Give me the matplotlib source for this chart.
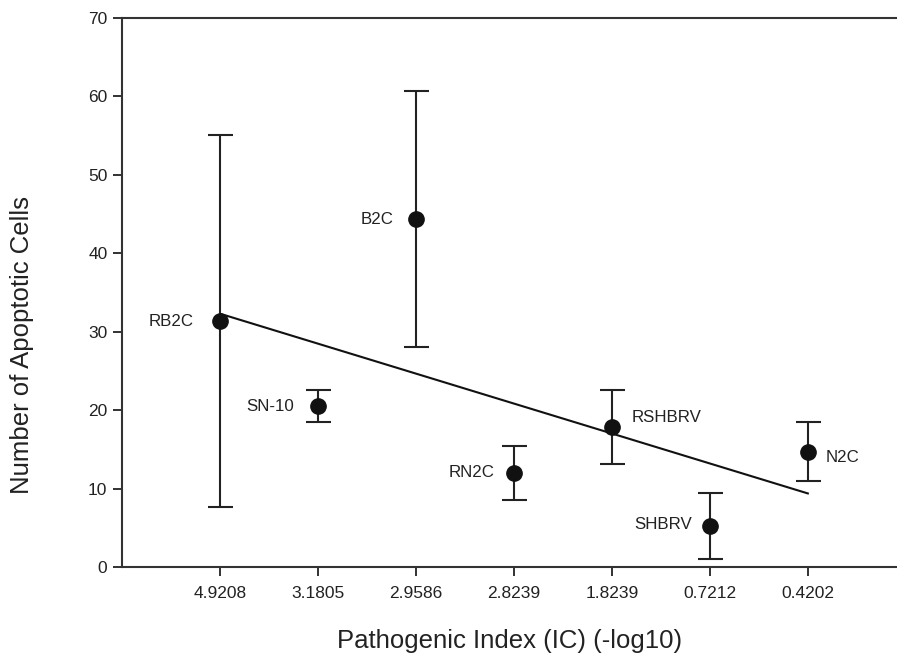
import matplotlib.pyplot as plt
import numpy as np

plt.rcParams['font.family'] = ['Liberation Sans', 'DejaVu Sans']

# data
pos = [1, 2, 3, 4, 5, 6, 7]
tick_labels = ["4.9208", "3.1805", "2.9586", "2.8239", "1.8239", "0.7212", "0.4202"]
names = ["RB2C", "SN-10", "B2C", "RN2C", "RSHBRV", "SHBRV", "N2C"]
cells = [31.3, 20.5, 44.3, 12.0, 17.8, 5.2, 14.7]
err = [23.7, 2.0, 16.3, 3.4, 4.7, 4.2, 3.8]

fig = plt.figure(figsize=(8.97, 6.57), dpi=100)
ax = fig.add_axes([0.136, 0.137, 0.864, 0.836])

ax.errorbar(pos, cells, yerr=err, fmt='o', color='#111111', ecolor='#222222',
            markersize=11, elinewidth=1.5, capsize=9, capthick=1.5, zorder=3)

# linear fit drawn between first and last point
slope, icpt = np.polyfit(pos, cells, 1)
xs = np.array([pos[0], pos[-1]])
ax.plot(xs, slope * xs + icpt, color='#111111', lw=1.5, zorder=2)

# point labels: (dx, dy) in points, alignment
offsets = {
    "RB2C": (-19, 0, 'right'),
    "SN-10": (-17, 0, 'right'),
    "B2C": (-16, 0, 'right'),
    "RN2C": (-14, 0, 'right'),
    "RSHBRV": (14, 7, 'left'),
    "SHBRV": (-13, 1, 'right'),
    "N2C": (13, -4, 'left'),
}
for x, y, n in zip(pos, cells, names):
    dx, dy, ha = offsets[n]
    ax.annotate(n, (x, y), xytext=(dx, dy), textcoords='offset points',
                ha=ha, va='center', fontsize=12.2, color='#222222')

ax.set_xlim(0, 7.91)
ax.set_ylim(0, 70)
ax.set_xticks(pos)
ax.set_xticklabels(tick_labels)
ax.set_yticks(range(0, 71, 10))
ax.tick_params(direction='out', length=6.5, width=1.3, labelsize=12.5,
               colors='#222222')
ax.tick_params(axis='x', pad=7)
ax.tick_params(axis='y', pad=4)

ax.spines['right'].set_visible(False)
for s in ['left', 'top', 'bottom']:
    ax.spines[s].set_linewidth(1.5)
    ax.spines[s].set_color('#333333')

ax.set_xlabel("Pathogenic Index (IC) (-log10)", fontsize=18.5, color='#222222', labelpad=20)
ax.set_ylabel("Number of Apoptotic Cells", fontsize=18.5, color='#222222')
ax.yaxis.set_label_coords(-0.114, 0.405)

plt.savefig("out.png", dpi=100)
